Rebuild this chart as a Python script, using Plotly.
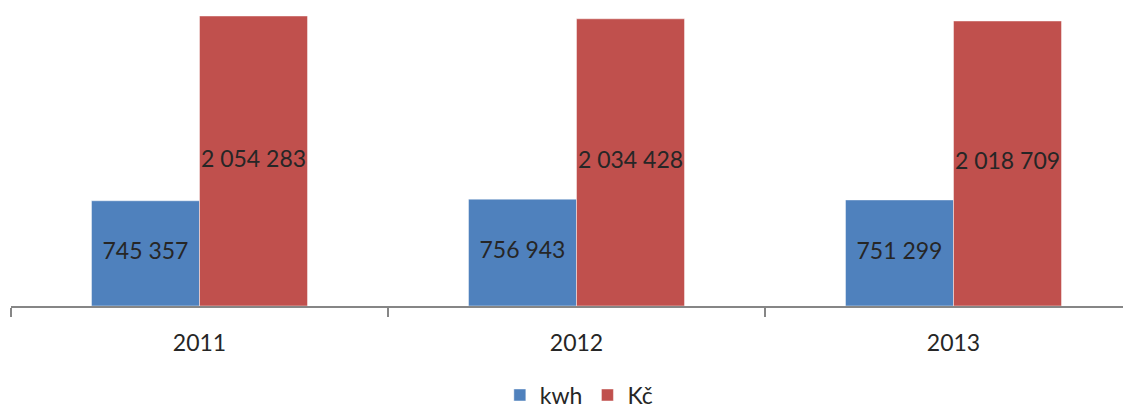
import plotly.graph_objects as go

years = ["2011", "2012", "2013"]
kwh = [745357, 756943, 751299]
kc = [2054283, 2034428, 2018709]
labels_kwh = ["745 357", "756 943", "751 299"]
labels_kc = ["2 054 283", "2 034 428", "2 018 709"]

BLUE = "#4F81BD"
RED = "#C0504D"
TXT = "#262626"
FONT = "Lato"

fig = go.Figure()
fig.add_trace(go.Bar(name="kwh", x=years, y=kwh, marker=dict(color=BLUE, line=dict(color="rgba(255,255,255,0.45)", width=1))))
fig.add_trace(go.Bar(name="Kč", x=years, y=kc, marker=dict(color=RED, line=dict(color="rgba(255,255,255,0.45)", width=1))))

# value labels on an overlaid numeric axis aligned with the category axis
bw = (1 - 0.427) / 2
xs_k = [i - bw / 2 for i in range(len(years))]
xs_c = [i + bw / 2 for i in range(len(years))]
fig.add_trace(go.Scatter(x=xs_k, y=[v / 2 for v in kwh], text=labels_kwh, mode="text",
                         textfont=dict(family=FONT, size=23, color=TXT), xaxis="x2",
                         showlegend=False, hoverinfo="skip"))
fig.add_trace(go.Scatter(x=xs_c, y=[v / 2 for v in kc], text=labels_kc, mode="text",
                         textfont=dict(family=FONT, size=23, color=TXT), xaxis="x2",
                         showlegend=False, hoverinfo="skip"))

xr = [-0.5, -0.5 + 1120 / 377]
fig.update_layout(
    width=1123, height=399,
    margin=dict(l=3, r=0, t=0, b=101),
    paper_bgcolor="white", plot_bgcolor="white",
    barmode="group", bargap=0.427, bargroupgap=0,
    font=dict(family=FONT, size=22, color=TXT),
    xaxis=dict(type="category", range=xr, tickson="boundaries", ticks="outside", ticklen=9,
               tickwidth=1.5, tickcolor="#868686", showline=True, linecolor="#868686",
               linewidth=2, showgrid=False, zeroline=False,
               tickfont=dict(family=FONT, size=23, color=TXT), ticklabelstandoff=15),
    xaxis2=dict(overlaying="x", range=xr, visible=False),
    yaxis=dict(range=[0, 2110900], visible=False, showgrid=False, zeroline=False),
    legend=dict(orientation="h", x=0.507, xanchor="center", yref="container", y=0.03,
                yanchor="middle", itemwidth=30, font=dict(family=FONT, size=23, color=TXT)),
    showlegend=True,
)

fig.write_html("out.html")
